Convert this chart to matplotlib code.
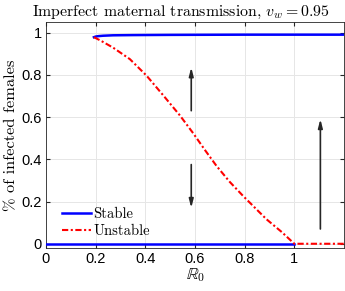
import matplotlib
matplotlib.use("Agg")
import matplotlib.pyplot as plt

plt.rcParams['mathtext.fontset'] = 'cm'

# Data
r0_stable_hi = [0.193, 0.20, 0.21, 0.23, 0.27, 0.35, 0.5, 0.8, 1.2]
stable_hi = [0.978, 0.981, 0.983, 0.985, 0.987, 0.988, 0.989, 0.99, 0.99]
r0_stable_lo = [0.0, 1.0]
stable_lo = [0.0, 0.0]
r0_unstable = [0.193, 0.22, 0.271, 0.338, 0.405, 0.472, 0.539, 0.593, 0.64, 0.687, 0.74, 0.794, 0.888, 0.95, 1.0, 1.2]
unstable = [0.978, 0.962, 0.928, 0.874, 0.796, 0.703, 0.608, 0.523, 0.444, 0.368, 0.293, 0.226, 0.116, 0.055, 0.0, 0.0]

arrow_x = [0.585, 0.585, 1.105]
arrow_start = [0.63, 0.375, 0.07]
arrow_end = [0.835, 0.17, 0.59]

xticks = [0, 0.2, 0.4, 0.6, 0.8, 1]
xticklabels = ['0', '0.2', '0.4', '0.6', '0.8', '1']
yticks = [0, 0.2, 0.4, 0.6, 0.8, 1]
yticklabels = ['0', '0.2', '0.4', '0.6', '0.8', '1']

fig = plt.figure(figsize=(3.45, 2.91), dpi=100)
ax = fig.add_axes([0.1333, 0.1478, 0.997 - 0.1333, 0.9244 - 0.1478])

ax.plot(r0_stable_lo, stable_lo, color='#0000ff', lw=1.8, zorder=3)
l1, = ax.plot(r0_stable_hi, stable_hi, color='#0000ff', lw=1.8, zorder=3, label='Stable')
l2, = ax.plot(r0_unstable, unstable, color='#ff0000', lw=1.5, zorder=4, label='Unstable',
              dashes=(3.0, 1.2, 1.0, 1.2))

for x, y0, y1 in zip(arrow_x, arrow_start, arrow_end):
    ax.annotate('', xy=(x, y1), xytext=(x, y0),
                arrowprops=dict(arrowstyle='-|>,head_length=0.5,head_width=0.13',
                                color='#262626', lw=1.2, shrinkA=0, shrinkB=0))

ax.set_xlim(0, 1.2)
ax.set_ylim(-0.02, 1.05)
ax.set_xticks(xticks)
ax.set_xticklabels(xticklabels, fontfamily='Liberation Sans', fontsize=10.5)
ax.set_yticks(yticks)
ax.set_yticklabels(yticklabels, fontfamily='Liberation Sans', fontsize=10.5)
ax.tick_params(direction='in', top=True, right=True, length=3, color='#262626', pad=3)
ax.grid(True, color='#e6e6e6', lw=0.7)
ax.set_axisbelow(True)
for s in ax.spines.values():
    s.set_color('#262626')
    s.set_linewidth(0.6)

fig.text(0.525, 0.958, r'Imperfect maternal transmission, $v_w = 0.95$', fontfamily='cmr10',
         fontsize=11.4, ha='center', va='center')
ax.set_xlabel(r'$\mathbb{R}_0$', fontsize=12, labelpad=0)
ax.set_ylabel('% of infected females', fontfamily='cmr10', fontsize=11.8, labelpad=2)

leg = ax.legend(handles=[l1, l2], loc='lower left', bbox_to_anchor=(0.035, 0.02), frameon=False,
                prop={'family': 'cmr10', 'size': 10.5}, handlelength=2.0, handletextpad=0.15,
                labelspacing=0.2, borderaxespad=0)

fig.savefig('out.png', dpi=100)
